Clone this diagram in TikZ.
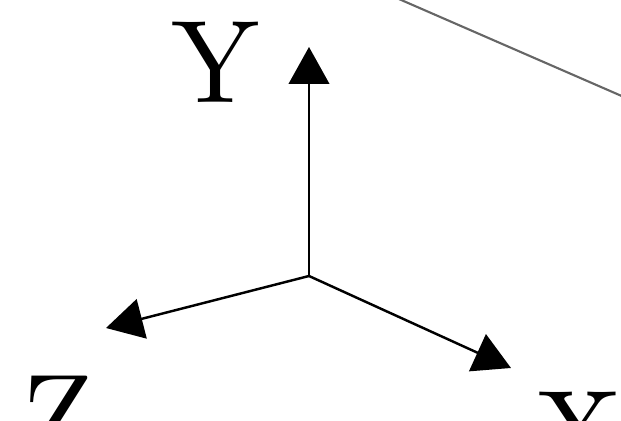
\documentclass[tikz,border=0pt]{standalone}
\usepackage{tikz}
\usetikzlibrary{arrows.meta}
\font\axisfont=cmr10 at 67pt

\begin{document}
\begin{tikzpicture}[x=0.02cm, y=-0.02cm,
		axis/.style={line width=1.4pt, -{Triangle[length=21pt, width=23pt]}},
		lbl/.style={inner sep=0pt, font=\axisfont},
		edge/.style={line width=1.2pt, black!60}]
	\useasboundingbox (0,0) rectangle (621,421);
	\clip (0,0) rectangle (621,421);
	\coordinate (o) at (309,276);
	\coordinate (ytip) at (309,47);
	\coordinate (ztip) at (106,328);
	\coordinate (xtip) at (511,368);
	\coordinate (ea) at (392,-4);
	\coordinate (eb) at (640,104);

	\draw[axis] (o) -- (ytip);
	\draw[axis] (o) -- (ztip);
	\draw[axis] (o) -- (xtip);
	\draw[edge] (ea) -- (eb);

	\node[lbl] (ylbl) at (216,62) {Y};
	\node[lbl] (zlbl) at (58,416) {Z};
	\node[lbl] (xlbl) at (580,432) {X};
\end{tikzpicture}
\end{document}
